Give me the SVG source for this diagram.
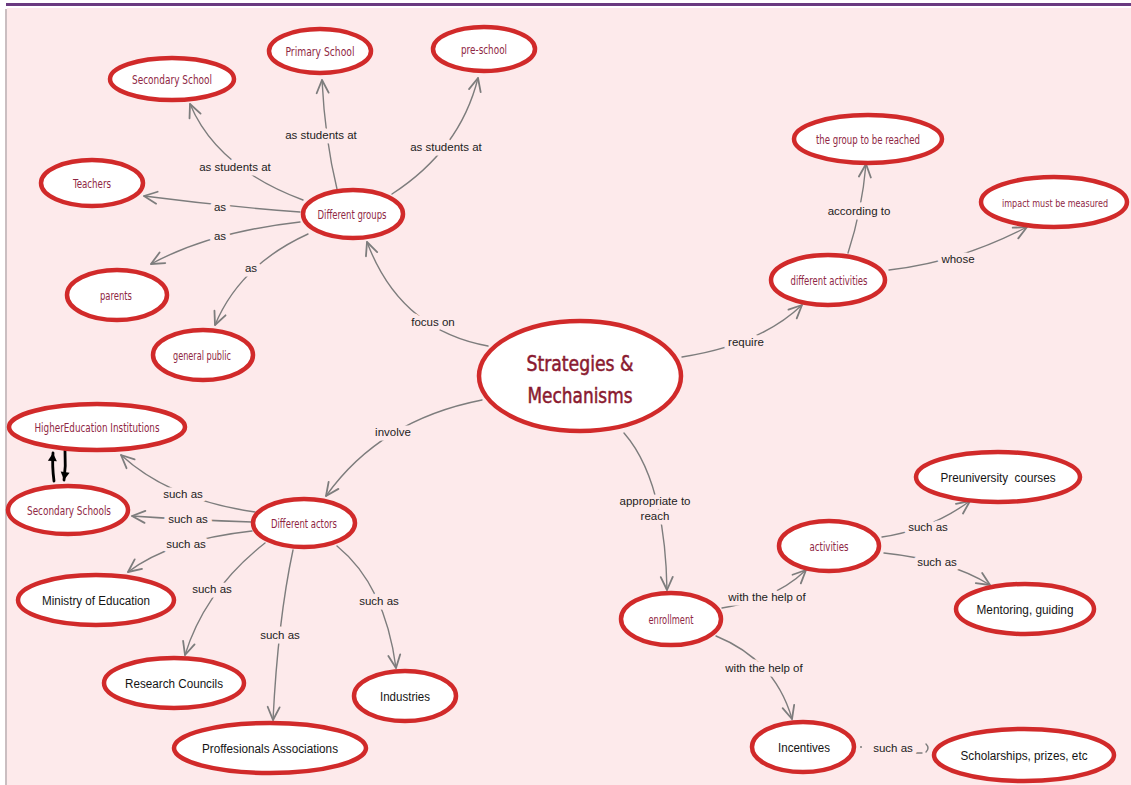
<svg xmlns="http://www.w3.org/2000/svg" width="1131" height="785" viewBox="0 0 1131 785">
<style>
.bg{fill:#fdeaeb}
.n{fill:#ffffff;stroke:#d12a2a;stroke-width:4.5}
.h{font-family:"DejaVu Sans Condensed","DejaVu Sans",sans-serif;font-size:12.5px;fill:#8f2744;text-anchor:middle}
.b{font-family:"Liberation Sans",Arial,sans-serif;font-size:12.5px;fill:#141414;text-anchor:middle}
.t{font-family:"DejaVu Sans Condensed","DejaVu Sans",sans-serif;font-size:21px;fill:#8a1a30;text-anchor:middle;stroke:#8a1a30;stroke-width:0.5px}
.c{fill:none;stroke:#7d7d7d;stroke-width:1.4;stroke-linecap:round}
.l{font-family:"Liberation Sans",Arial,sans-serif;font-size:11.5px;fill:#222;text-anchor:middle;stroke:#fdeaeb;stroke-width:9px;stroke-linejoin:round;paint-order:stroke}
.k{fill:none;stroke:#000;stroke-width:2.8;stroke-linecap:round}
</style>
<defs>
<marker id="arr" viewBox="-16 -9 18 18" refX="0" refY="0" markerWidth="18" markerHeight="18" markerUnits="userSpaceOnUse" orient="auto">
<path d="M -13 -6 L 0 0 L -13 6" fill="none" stroke="#7d7d7d" stroke-width="1.8" stroke-linejoin="round" stroke-linecap="round"/>
</marker>
<marker id="blk" viewBox="-10 -6 12 12" refX="0" refY="0" markerWidth="12" markerHeight="12" markerUnits="userSpaceOnUse" orient="auto">
<path d="M -8 -4.5 L 0 0 L -8 4.5 Z" fill="#000"/>
</marker>
</defs>
<rect x="0" y="0" width="1131" height="785" fill="#ffffff"/>
<rect class="bg" x="7" y="8" width="1124" height="777"/>
<line x1="6" y1="4.5" x2="1131" y2="4.5" stroke="#6a3a80" stroke-width="3"/>
<line x1="6" y1="9" x2="6" y2="785" stroke="#b8a8ac" stroke-width="1.5"/>

<g id="connectors">
<path class="c" d="M 303 200 Q 217 168 190 104" marker-end="url(#arr)"/>
<path class="c" d="M 337 189 Q 325 140 322 80" marker-end="url(#arr)"/>
<path class="c" d="M 392 194 Q 460 150 478 78" marker-end="url(#arr)"/>
<path class="c" d="M 300 212 Q 220 206 144 196" marker-end="url(#arr)"/>
<path class="c" d="M 300 222 Q 210 232 151 264" marker-end="url(#arr)"/>
<path class="c" d="M 308 234 Q 240 265 215 325" marker-end="url(#arr)"/>
<path class="c" d="M 488 346 Q 400 330 367 242" marker-end="url(#arr)"/>
<path class="c" d="M 482 400 Q 380 420 326 496" marker-end="url(#arr)"/>
<path class="c" d="M 255 512 Q 170 500 121 455" marker-end="url(#arr)"/>
<path class="c" d="M 252 522 Q 190 520 132 516" marker-end="url(#arr)"/>
<path class="c" d="M 252 531 Q 170 540 128 572" marker-end="url(#arr)"/>
<path class="c" d="M 265 543 Q 205 590 185 655" marker-end="url(#arr)"/>
<path class="c" d="M 293 550 Q 278 620 273 720" marker-end="url(#arr)"/>
<path class="c" d="M 337 546 Q 385 585 396 668" marker-end="url(#arr)"/>
<path class="c" d="M 848 253 Q 862 210 866 164" marker-end="url(#arr)"/>
<path class="c" d="M 889 270 Q 960 262 1027 227" marker-end="url(#arr)"/>
<path class="c" d="M 682 357 Q 760 345 802 305" marker-end="url(#arr)"/>
<path class="c" d="M 624 433 Q 665 480 667 590" marker-end="url(#arr)"/>
<path class="c" d="M 722 608 Q 775 600 806 570" marker-end="url(#arr)"/>
<path class="c" d="M 716 636 Q 775 660 792 719" marker-end="url(#arr)"/>
<path class="c" d="M 882 537 Q 930 530 970 501" marker-end="url(#arr)"/>
<path class="c" d="M 884 553 Q 950 560 990 585" marker-end="url(#arr)"/>
<circle cx="861" cy="747" r="1" fill="#7d7d7d"/>
<path class="c" d="M 916 753 L 922 753"/>
<path class="c" d="M 926 744 Q 930 748 926 752"/>
<path class="k" d="M 54 481 Q 52 466 53 453" marker-end="url(#blk)"/>
<path class="k" d="M 65 451 Q 66 466 64 480" marker-end="url(#blk)"/>
<text class="l" x="235" y="171">as students at</text>
<text class="l" x="321" y="139">as students at</text>
<text class="l" x="446" y="151">as students at</text>
<text class="l" x="220" y="211">as</text>
<text class="l" x="220" y="240">as</text>
<text class="l" x="251" y="272">as</text>
<text class="l" x="433" y="326">focus on</text>
<text class="l" x="393" y="436">involve</text>
<text class="l" x="183" y="498">such as</text>
<text class="l" x="188" y="523">such as</text>
<text class="l" x="186" y="548">such as</text>
<text class="l" x="212" y="593">such as</text>
<text class="l" x="280" y="639">such as</text>
<text class="l" x="379" y="605">such as</text>
<text class="l" x="859" y="215">according to</text>
<text class="l" x="958" y="263">whose</text>
<text class="l" x="746" y="346">require</text>
<text class="l" x="655" y="505">appropriate to</text>
<text class="l" x="655" y="520">reach</text>
<text class="l" x="767" y="601">with the help of</text>
<text class="l" x="764" y="672">with the help of</text>
<text class="l" x="928" y="531">such as</text>
<text class="l" x="937" y="566">such as</text>
<text class="l" x="893" y="752">such as</text>
</g>

<g id="n-center"><ellipse class="n" cx="580" cy="376" rx="101" ry="55"/><text class="t" x="580" y="371" textLength="107" lengthAdjust="spacingAndGlyphs">Strategies &amp;</text><text class="t" x="580" y="403" textLength="105" lengthAdjust="spacingAndGlyphs">Mechanisms</text></g>
<g id="n-primary"><ellipse class="n" cx="320" cy="51" rx="51" ry="22"/><text class="h" x="320" y="56" textLength="69" lengthAdjust="spacingAndGlyphs">Primary School</text></g>
<g id="n-preschool"><ellipse class="n" cx="484" cy="49" rx="51" ry="22"/><text class="h" x="484" y="54" textLength="46" lengthAdjust="spacingAndGlyphs">pre-school</text></g>
<g id="n-secondary"><ellipse class="n" cx="172" cy="79" rx="62" ry="21"/><text class="h" x="172" y="84" textLength="80" lengthAdjust="spacingAndGlyphs">Secondary School</text></g>
<g id="n-teachers"><ellipse class="n" cx="92" cy="183" rx="51" ry="23"/><text class="h" x="92" y="188" textLength="38" lengthAdjust="spacingAndGlyphs">Teachers</text></g>
<g id="n-groups"><ellipse class="n" cx="353" cy="214" rx="50" ry="24"/><text class="h" x="352" y="219" textLength="69" lengthAdjust="spacingAndGlyphs">Different groups</text></g>
<g id="n-parents"><ellipse class="n" cx="117" cy="295" rx="50" ry="25"/><text class="h" x="116" y="300" textLength="32" lengthAdjust="spacingAndGlyphs">parents</text></g>
<g id="n-public"><ellipse class="n" cx="203" cy="355" rx="50" ry="25"/><text class="h" x="202" y="360" textLength="58" lengthAdjust="spacingAndGlyphs">general public</text></g>
<g id="n-hei"><ellipse class="n" cx="97" cy="427" rx="88" ry="23"/><text class="h" x="97" y="432" textLength="125" lengthAdjust="spacingAndGlyphs">HigherEducation Institutions</text></g>
<g id="n-secschools"><ellipse class="n" cx="68" cy="510" rx="60" ry="24"/><text class="h" x="69" y="515" textLength="84" lengthAdjust="spacingAndGlyphs">Secondary Schools</text></g>
<g id="n-actors"><ellipse class="n" cx="304" cy="523" rx="51" ry="24"/><text class="h" x="304" y="528" textLength="66" lengthAdjust="spacingAndGlyphs">Different actors</text></g>
<g id="n-ministry"><ellipse class="n" cx="96" cy="600" rx="78" ry="25"/><text class="b" x="96" y="605" textLength="108" lengthAdjust="spacingAndGlyphs">Ministry of Education</text></g>
<g id="n-research"><ellipse class="n" cx="174" cy="683" rx="70" ry="25"/><text class="b" x="174" y="688" textLength="98" lengthAdjust="spacingAndGlyphs">Research Councils</text></g>
<g id="n-prof"><ellipse class="n" cx="270" cy="748" rx="96" ry="25"/><text class="b" x="270" y="753" textLength="136" lengthAdjust="spacingAndGlyphs">Proffesionals Associations</text></g>
<g id="n-industries"><ellipse class="n" cx="405" cy="696" rx="51" ry="25"/><text class="b" x="405" y="701" textLength="50" lengthAdjust="spacingAndGlyphs">Industries</text></g>
<g id="n-group-reached"><ellipse class="n" cx="868" cy="139" rx="74" ry="24"/><text class="h" x="868" y="144" textLength="104" lengthAdjust="spacingAndGlyphs">the group to be reached</text></g>
<g id="n-impact"><ellipse class="n" cx="1054" cy="202" rx="73" ry="25"/><text class="h" x="1055" y="207" style="font-size:11px" textLength="106" lengthAdjust="spacingAndGlyphs">impact must be measured</text></g>
<g id="n-diffact"><ellipse class="n" cx="828" cy="280" rx="57" ry="25"/><text class="h" x="829" y="285" textLength="77" lengthAdjust="spacingAndGlyphs">different activities</text></g>
<g id="n-activities"><ellipse class="n" cx="829" cy="546" rx="50" ry="25"/><text class="h" x="829" y="551" textLength="39" lengthAdjust="spacingAndGlyphs">activities</text></g>
<g id="n-preuni"><ellipse class="n" cx="998" cy="477" rx="82" ry="25"/><text class="b" x="998" y="482" textLength="115" lengthAdjust="spacingAndGlyphs" xml:space="preserve">Preuniversity  courses</text></g>
<g id="n-mentoring"><ellipse class="n" cx="1025" cy="609" rx="69" ry="25"/><text class="b" x="1025" y="614" textLength="97" lengthAdjust="spacingAndGlyphs">Mentoring, guiding</text></g>
<g id="n-enrollment"><ellipse class="n" cx="671" cy="619" rx="50" ry="26"/><text class="h" x="671" y="624" textLength="45" lengthAdjust="spacingAndGlyphs">enrollment</text></g>
<g id="n-incentives"><ellipse class="n" cx="803" cy="747" rx="51" ry="25"/><text class="b" x="804" y="752" textLength="52" lengthAdjust="spacingAndGlyphs">Incentives</text></g>
<g id="n-scholar"><ellipse class="n" cx="1024" cy="755" rx="90" ry="26"/><text class="b" x="1024" y="760" textLength="127" lengthAdjust="spacingAndGlyphs">Scholarships, prizes, etc</text></g>
</svg>
